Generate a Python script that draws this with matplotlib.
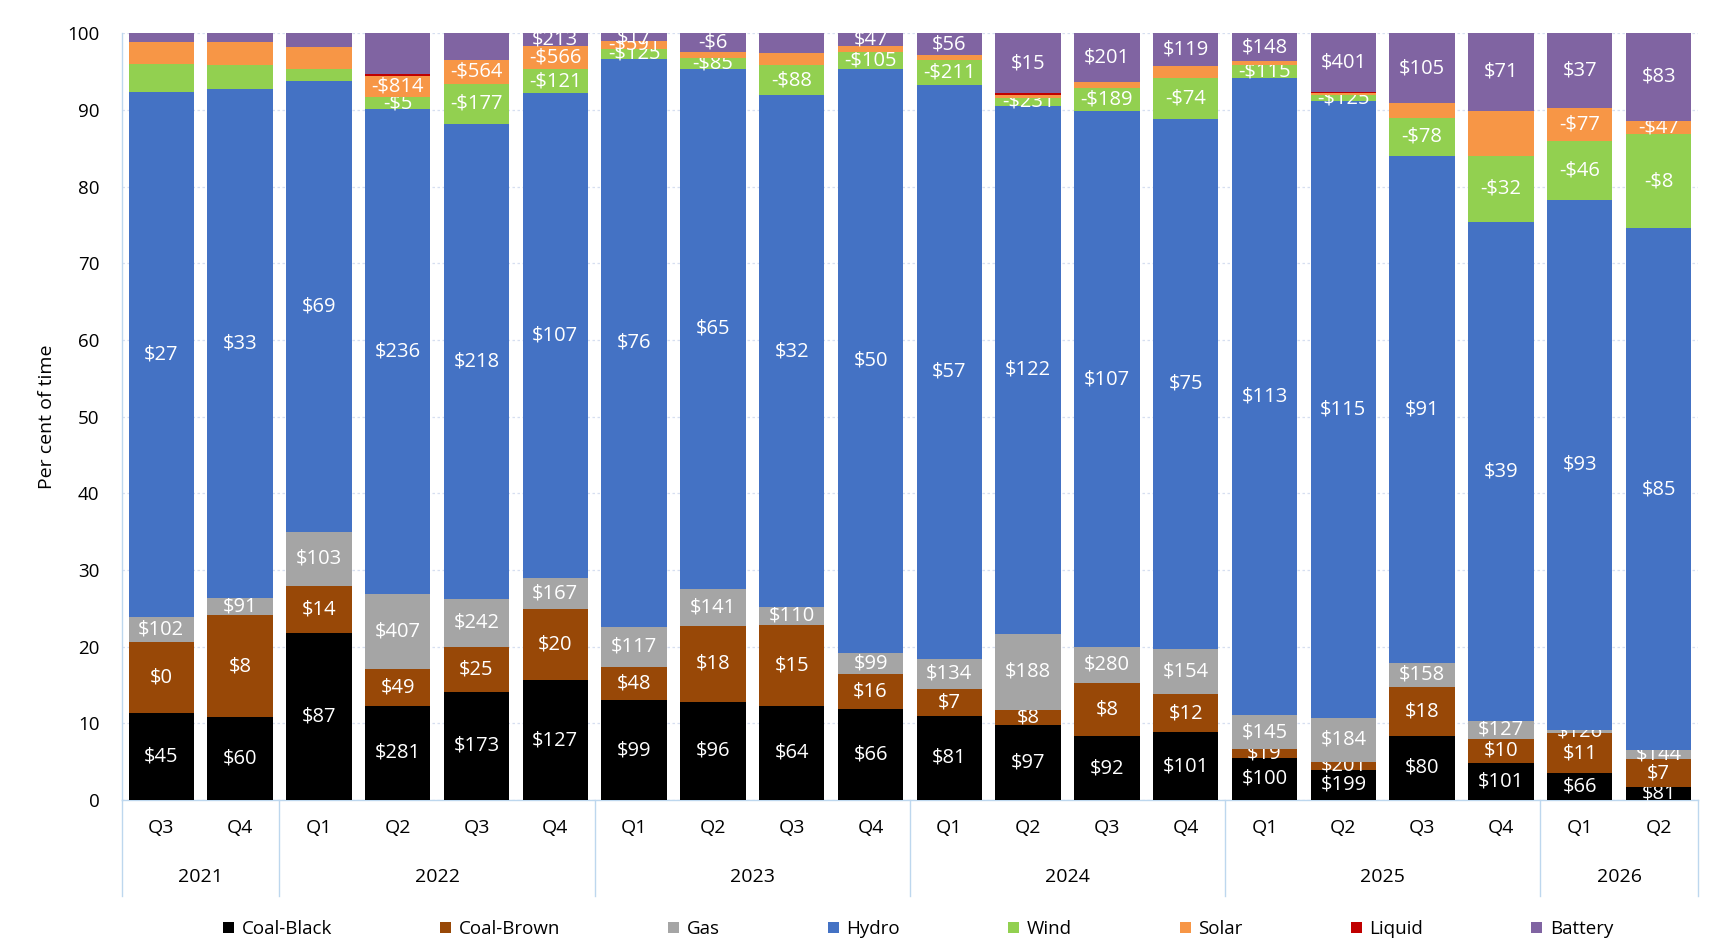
import matplotlib
matplotlib.use("Agg")
import matplotlib.pyplot as plt
import matplotlib.transforms as mtransforms
from matplotlib.patches import Patch
import numpy as np

plt.rcParams['font.family'] = ['Open Sans', 'DejaVu Sans']

quarters = ["Q3", "Q4", "Q1", "Q2", "Q3", "Q4", "Q1", "Q2", "Q3", "Q4",
            "Q1", "Q2", "Q3", "Q4", "Q1", "Q2", "Q3", "Q4", "Q1", "Q2"]
years = ["2021", "2022", "2023", "2024", "2025", "2026"]
year_counts = [2, 4, 4, 4, 4, 2]

fuels = ["Coal-Black", "Coal-Brown", "Gas", "Hydro", "Wind", "Solar", "Liquid", "Battery"]
colors = ["#000000", "#984807", "#A5A5A5", "#4472C4", "#92D050", "#F79646", "#C00000", "#8064A2"]

# per cent of time, per fuel
coal_black = [11.4, 10.8, 21.8, 12.3, 14.1, 15.6, 13.0, 12.8, 12.3, 11.9,
              11.0, 9.8, 8.3, 8.8, 5.5, 3.9, 8.4, 4.8, 3.5, 1.7]
coal_brown = [9.2, 13.3, 6.1, 4.8, 5.9, 9.3, 4.4, 9.9, 10.5, 4.5,
              3.5, 1.9, 7.0, 5.0, 1.1, 1.1, 6.3, 3.2, 5.2, 3.6]
gas = [3.3, 2.3, 7.1, 9.8, 6.2, 4.0, 5.2, 4.8, 2.4, 2.8,
       3.9, 10.0, 4.6, 5.9, 4.5, 5.7, 3.2, 2.3, 0.4, 1.2]
hydro = [68.5, 66.3, 58.8, 63.2, 62.0, 63.3, 74.0, 67.9, 66.7, 76.1,
         74.9, 68.8, 70.0, 69.1, 83.0, 80.4, 66.1, 65.1, 69.2, 68.1]
wind = [3.6, 3.1, 1.6, 1.6, 5.2, 3.1, 1.4, 1.4, 4.0, 2.2,
        3.2, 1.1, 2.9, 5.4, 1.8, 0.9, 5.0, 8.6, 7.6, 12.2]
solar = [2.8, 3.0, 2.8, 2.7, 3.1, 3.0, 1.0, 0.7, 1.5, 0.8,
         0.6, 0.4, 0.8, 1.5, 0.5, 0.2, 1.9, 5.9, 4.3, 1.8]
liquid = [0, 0, 0, 0.3, 0, 0, 0, 0, 0, 0,
          0, 0.2, 0, 0, 0, 0.1, 0, 0, 0, 0]
battery = [1.2, 1.2, 1.8, 5.3, 3.5, 1.7, 1.0, 2.5, 2.6, 1.7,
           2.9, 7.8, 6.4, 4.3, 3.6, 7.8, 9.1, 10.1, 9.8, 11.4]

# price labels shown in segments
lbl_coal_black = ["$45", "$60", "$87", "$281", "$173", "$127", "$99", "$96", "$64", "$66",
                  "$81", "$97", "$92", "$101", "$100", "$199", "$80", "$101", "$66", "$81"]
lbl_coal_brown = ["$0", "$8", "$14", "$49", "$25", "$20", "$48", "$18", "$15", "$16",
                  "$7", "$8", "$8", "$12", "$19", "$201", "$18", "$10", "$11", "$7"]
lbl_gas = ["$102", "$91", "$103", "$407", "$242", "$167", "$117", "$141", "$110", "$99",
           "$134", "$188", "$280", "$154", "$145", "$184", "$158", "$127", "$126", "$144"]
lbl_hydro = ["$27", "$33", "$69", "$236", "$218", "$107", "$76", "$65", "$32", "$50",
             "$57", "$122", "$107", "$75", "$113", "$115", "$91", "$39", "$93", "$85"]
lbl_wind = ["", "", "", "-$5", "-$177", "-$121", "-$125", "-$85", "-$88", "-$105",
            "-$211", "-$231", "-$189", "-$74", "-$115", "-$125", "-$78", "-$32", "-$46", "-$8"]
lbl_solar = ["", "", "", "-$814", "-$564", "-$566", "-$591", "", "", "",
             "", "", "", "", "", "", "", "", "-$77", "-$47"]
lbl_liquid = [""] * 20
lbl_battery = ["", "", "", "", "", "$213", "$17", "-$6", "", "$47",
               "$56", "$15", "$201", "$119", "$148", "$401", "$105", "$71", "$37", "$83"]

series = [coal_black, coal_brown, gas, hydro, wind, solar, liquid, battery]
labels = [lbl_coal_black, lbl_coal_brown, lbl_gas, lbl_hydro, lbl_wind, lbl_solar,
          lbl_liquid, lbl_battery]

fig = plt.figure(figsize=(17.16, 9.5), dpi=100)
ax = fig.add_axes([0.071, 0.158, 0.9185, 0.807])

x = np.arange(len(quarters))
bottom = np.zeros(len(quarters))
for name, vals, col, lbls in zip(fuels, series, colors, labels):
    vals = np.array(vals, dtype=float)
    cont = ax.bar(x, vals, 0.83, bottom=bottom, color=col, label=name, zorder=3)
    ax.bar_label(cont, labels=lbls, label_type='center', color='white', fontsize=14.5)
    bottom += vals

ax.set_xlim(-0.5, len(quarters) - 0.5)
ax.set_ylim(0, 100)
ax.set_yticks(np.arange(0, 101, 10))
ax.tick_params(axis='y', length=0, labelsize=13.5, pad=16, colors='#000000')
ax.grid(axis='y', color='#D6DFF0', linestyle=(0, (2, 2)), linewidth=0.9, zorder=0)
ax.set_ylabel("Per cent of time", fontsize=14, labelpad=8)

for s in ['top', 'right']:
    ax.spines[s].set_visible(False)
for s in ['left', 'bottom']:
    ax.spines[s].set_color('#BDD7EE')
    ax.spines[s].set_linewidth(1.0)

ax.set_xticks(x)
ax.set_xticklabels(quarters, fontsize=14)
ax.tick_params(axis='x', length=0, pad=14)

trans = mtransforms.blended_transform_factory(ax.transData, ax.transAxes)
edges = np.concatenate([[0], np.cumsum(year_counts)]) - 0.5
for e in edges:
    ax.plot([e, e], [0, -0.125], transform=trans, color='#BDD7EE', lw=1.0, clip_on=False)
for yr, a, b in zip(years, edges[:-1], edges[1:]):
    ax.text((a + b) / 2, -0.1, yr, transform=trans, ha='center', va='center', fontsize=14)

handles = [Patch(facecolor=c, edgecolor='none') for c in colors]
fig.legend(handles, fuels, loc='center', ncol=8, bbox_to_anchor=(0.12, 0.0, 0.83, 0.044),
           mode='expand', frameon=False, fontsize=13.5, handlelength=0.6, handleheight=0.6,
           handletextpad=0.4)

fig.savefig("out.png", dpi=100)
